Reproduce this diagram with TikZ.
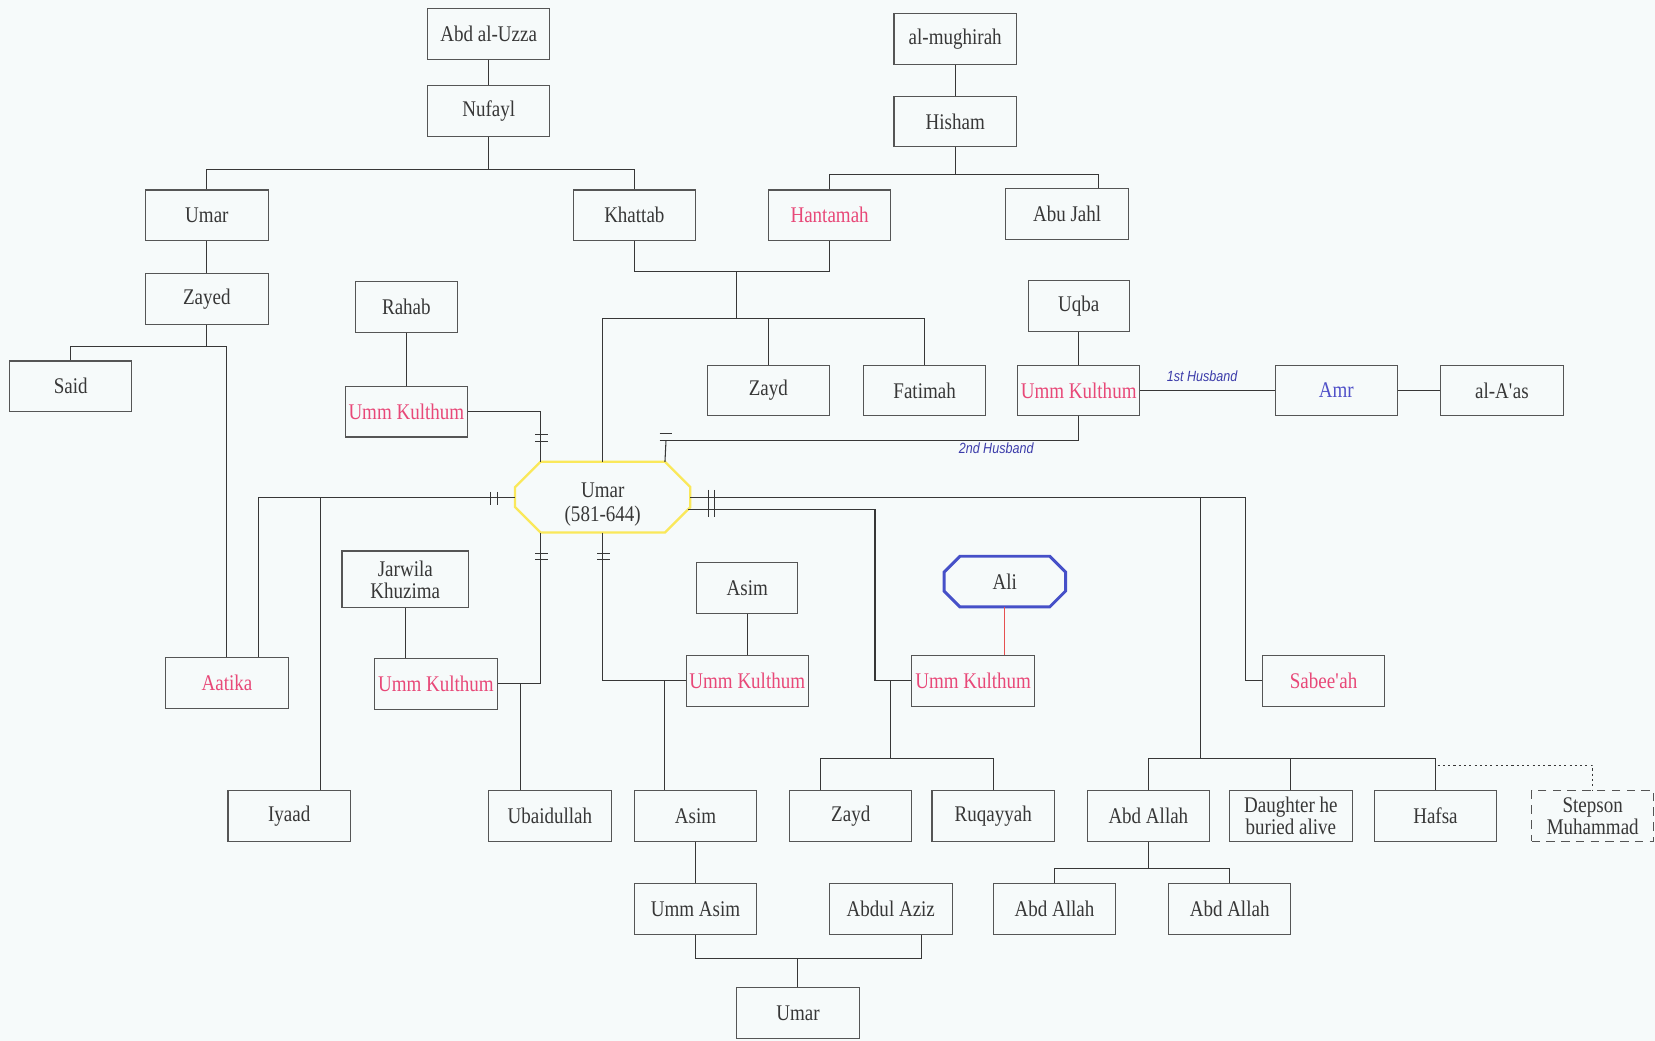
\documentclass[tikz,border=0pt]{standalone}
\usepackage{fontspec}
\setmainfont{Liberation Serif}[FakeStretch=0.85]
\newfontfamily\husbandfont{Liberation Sans}[FakeStretch=0.85]
\usepackage{xcolor}
\usepackage{tikz}
\usetikzlibrary{positioning}
\definecolor{paper}{RGB}{246,250,250}
\definecolor{ink}{RGB}{55,55,55}
\definecolor{boxgrey}{RGB}{85,85,85}
\definecolor{wifepink}{RGB}{232,72,120}
\definecolor{amrblue}{RGB}{80,80,200}
\definecolor{labelblue}{RGB}{60,60,170}
\definecolor{umaryellow}{RGB}{250,232,90}
\definecolor{aliblue}{RGB}{70,80,200}
\definecolor{alired}{RGB}{230,80,80}
\tikzstyle{person}=[rectangle,draw=boxgrey,line width=0.5pt,minimum width=58pt,minimum height=24pt,inner sep=1pt,align=center,font=\fontsize{10.6}{10.5}\selectfont]
\tikzset{wife/.style={person,text=wifepink}}
\tikzset{slim/.style={person,minimum width=48pt}}
\tikzset{centre/.style={rectangle,minimum width=82.5pt,minimum height=33pt,inner sep=0pt,align=center,font=\fontsize{10.6}{11}\selectfont}}
\tikzset{husband/.style={font=\husbandfont\itshape\fontsize{7}{8}\selectfont,text=labelblue,inner sep=1pt}}

\begin{document}
\begin{tikzpicture}[x=0.5pt,y=-0.5pt,color=ink,line width=0.5pt]
    \fill[paper] (0,0) rectangle (1568,986);
    \useasboundingbox (0,0) rectangle (1568,986);

    \foreach \pos/\name/\txt in {{(463,32)/abduzza/Abd al-Uzza}, {(463,105)/nufayl/Nufayl},
        {(905,37)/mughirah/al-mughirah}, {(905,115)/hisham/Hisham}, {(196,204)/umarA/Umar},
        {(601,204)/khattab/Khattab}, {(1011,203)/abujahl/Abu Jahl}, {(196,283)/zayed/Zayed},
        {(67,366)/said/Said}, {(728,370)/zaydA/Zayd}, {(876,370)/fatimah/Fatimah},
        {(1423,370)/aas/al-A\textquotesingle as}, {(274,773)/iyaad/Iyaad}, {(521,773)/ubaid/Ubaidullah},
        {(659,773)/asimB/Asim}, {(806,773)/zaydB/Zayd}, {(941,773)/ruqayyah/Ruqayyah},
        {(1088,773)/abdallahA/Abd Allah}, {(1223,773)/daughter/{Daughter he\\buried alive}},
        {(1360,773)/hafsa/Hafsa}, {(659,861)/ummasim/Umm Asim}, {(844,861)/abdulaziz/Abdul Aziz},
        {(999,861)/abdallahB/Abd Allah}, {(1165,861)/abdallahC/Abd Allah}, {(756,960)/umarC/Umar}}
        \node[person] (\name) at \pos {\txt};

    \foreach \pos/\name/\txt in {{(385,291)/rahab/Rahab}, {(1022,290)/uqba/Uqba}, {(708,557)/asimA/Asim}}
        \node[slim] (\name) at \pos {\txt};
    \node[person,minimum width=60pt,minimum height=27pt] (jarwila) at (384,549) {Jarwila\\Khuzima};

    \foreach \pos/\name/\txt in {{(786,204)/hantamah/Hantamah}, {(385,390)/ummkA/Umm Kulthum},
        {(1022,370)/ummkB/Umm Kulthum}, {(215,647)/aatika/Aatika}, {(413,648)/ummkC/Umm Kulthum},
        {(708,645)/ummkD/Umm Kulthum}, {(922,645)/ummkE/Umm Kulthum}, {(1254,645)/sabeeah/Sabee\textquotesingle ah}}
        \node[wife] (\name) at \pos {\txt};

    \node[person,text=amrblue] (amr) at (1266,370) {Amr};
    \node[person,dash pattern=on 4pt off 3pt] (stepson) at (1509,773) {Stepson\\Muhammad};

    % Umar himself and Ali
    \node[centre] (umar) at (571,471) {};
    \node[centre,minimum width=0pt,minimum height=0pt] (umartxt) at ([yshift=-3.5pt]umar.center) {Umar\\(581-644)};
    \draw[draw=umaryellow,line width=1.1pt] ([xshift=12pt]umar.north west) -- ([xshift=-12pt]umar.north east)
        -- ([yshift=-12pt]umar.north east) -- ([yshift=12pt]umar.south east) -- ([xshift=-12pt]umar.south east)
        -- ([xshift=12pt]umar.south west) -- ([yshift=12pt]umar.south west) -- ([yshift=-12pt]umar.north west) -- cycle;
    \coordinate (unw) at ([xshift=12pt]umar.north west);
    \coordinate (une) at ([xshift=-12pt]umar.north east);
    \coordinate (usw) at ([xshift=12pt]umar.south west);

    \node[centre,minimum width=57pt,minimum height=23.5pt] (ali) at (952,551) {Ali};
    \draw[draw=aliblue,line width=1.4pt] ([xshift=7.5pt]ali.north west) -- ([xshift=-7.5pt]ali.north east)
        -- ([yshift=-7.5pt]ali.north east) -- ([yshift=7.5pt]ali.south east) -- ([xshift=-7.5pt]ali.south east)
        -- ([xshift=7.5pt]ali.south west) -- ([yshift=7.5pt]ali.south west) -- ([yshift=-7.5pt]ali.north west) -- cycle;

    % junctions
    \coordinate (nj) at (463,161);
    \coordinate (hj) at (905,165);
    \coordinate (hj2) at (1041,165);
    \coordinate (kh) at (698,257);
    \coordinate (kc) at (698,302);
    \coordinate (zj) at (196,328);
    \coordinate (hb) at (631,417);
    \coordinate (aj) at (245,471);
    \coordinate (ij) at (304,471);
    \coordinate (ubj) at (493,648);
    \coordinate (asj) at (630,645);
    \coordinate (sj) at (1180,471);
    \coordinate (cj) at (1137,471);
    \coordinate (cb) at (1137,719);
    \coordinate (dj) at (1362,725);
    \coordinate (lj) at (829,483);
    \coordinate (zrj) at (844,645);
    \coordinate (zrb) at (844,719);
    \coordinate (zl) at (777,719);
    \coordinate (gj) at (756,908);
    \coordinate (gr) at (873,908);
    \coordinate (aj2) at (1088,823);

    % ancestors
    \draw (abduzza) -- (nufayl);
    \draw (nufayl) -- (nj);
    \draw (umarA) |- (nj) -| (khattab);
    \draw (mughirah) -- (hisham);
    \draw (hisham) -- (hj);
    \draw (hantamah) |- (hj) -- (hj2) -- (hj2 |- abujahl.north);
    \draw (khattab) |- (kh) -| (hantamah);
    \draw (kh) -- (kc);
    \draw (umar) |- (kc) -| (fatimah);
    \draw (zaydA) -- (zaydA |- kc);
    \draw (umarA) -- (zayed);
    \draw (zayed) -- (zj);
    \draw (said) |- (zj) -| (aatika);

    % wives
    \draw (rahab) -- (ummkA);
    \draw (ummkA) -| (unw);
    \draw (uqba) -- (ummkB);
    \draw (ummkB) -- (amr) node[husband,pos=0.46,above=3pt] {1st Husband};
    \draw (amr) -- (aas);
    \draw (ummkB) |- (hb) node[husband,pos=0.6,below=0pt] {2nd Husband};
    \draw (hb) -- (une);
    \draw (umar) -- (aj) -- (aj |- aatika.north);
    \draw (ij) -- (ij |- iyaad.north);
    \draw (jarwila) -- (jarwila |- ummkC.north);
    \draw (usw) |- (ummkC);
    \draw (ubj) -- (ubj |- ubaid.north);
    \draw (asimA) -- (ummkD);
    \draw (umar) |- (ummkD);
    \draw (asj) -- (asj |- asimB.north);
    \draw ([xshift=-1pt,yshift=-6pt]umar.east) -- (lj) |- (ummkE);
    \draw[draw=alired] (ali) -- (ali.south |- ummkE.north);
    \draw (zrj) -- (zrb);
    \draw (zl |- zaydB.north) -- (zl) -| (ruqayyah);
    \draw (umar) -- (sj) |- (sabeeah);
    \draw (cj) -- (cb);
    \draw (abdallahA) |- (cb) -| (hafsa);
    \draw (daughter) -- (daughter |- cb);
    \draw[dash pattern=on 1pt off 1.5pt] (dj) -| (stepson);

    % grandchildren
    \draw (asimB) -- (ummasim);
    \draw (ummasim) |- (gj) -- (gr) -- (gr |- abdulaziz.south);
    \draw (gj) -- (umarC);
    \draw (abdallahA) -- (aj2);
    \draw (abdallahB) |- (aj2) -| (abdallahC);

    % marriage ticks
    \foreach \x in {465,471} \draw (\x,466) -- (\x,478);
    \foreach \x in {671,677} \draw (\x,464) -- (\x,490);
    \foreach \y in {412,418} \draw (507,\y) -- (519,\y);
    \foreach \y in {524,530} {\draw (507,\y) -- (519,\y); \draw (566,\y) -- (578,\y);}
    \foreach \y in {411,417} \draw (625,\y) -- (637,\y);

\end{tikzpicture}
\end{document}
